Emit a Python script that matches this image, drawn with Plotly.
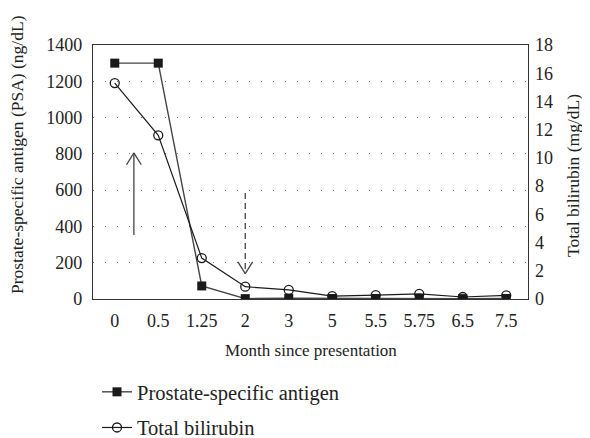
import plotly.graph_objects as go

months = ["0", "0.5", "1.25", "2", "3", "5", "5.5", "5.75", "6.5", "7.5"]
psa = [1300, 1300, 72, 2, 4, 3, 3, 3, 2, 3]
bilirubin = [15.3, 11.6, 2.9, 0.87, 0.64, 0.21, 0.28, 0.36, 0.14, 0.26]
left_ticks = [0, 200, 400, 600, 800, 1000, 1200, 1400]
right_ticks = [0, 2, 4, 6, 8, 10, 12, 14, 16, 18]

FONT = "Liberation Serif"
AX = "#333333"
TXT = "#222222"

# the page body has an 8px margin; the figure is sized to fill the rest
W, H = 582, 430
PL, PT, PW, PH = 93, 45, 435, 254  # plot area in page pixels

fig = go.Figure()
fig.add_trace(go.Scatter(
    x=months, y=psa, name="Prostate-specific antigen", mode="lines+markers",
    line=dict(color="#444444", width=1.4),
    marker=dict(symbol="square", size=9, color="#1a1a1a"),
    legendgroup="a"))
fig.add_trace(go.Scatter(
    x=months, y=bilirubin, name="Total bilirubin", mode="lines+markers", yaxis="y2",
    line=dict(color="#1a1a1a", width=1.2),
    marker=dict(symbol="circle-open", size=9, color="#1a1a1a", line=dict(width=1.3)),
    legendgroup="b"))

shapes = []
ac = dict(color="#444444", width=1.3)
# solid up arrow
ux = 0.44
shapes.append(dict(type="line", xref="x", yref="y", x0=ux, x1=ux, y0=353, y1=805, line=ac))
shapes.append(dict(type="line", xref="x", yref="y", x0=ux - 0.17, x1=ux, y0=740, y1=805, line=ac))
shapes.append(dict(type="line", xref="x", yref="y", x0=ux + 0.17, x1=ux, y0=740, y1=805, line=ac))
# dashed down arrow
dx = 3
shapes.append(dict(type="line", xref="x", yref="y", x0=dx, x1=dx, y0=584, y1=140,
                   line=dict(color="#444444", width=1.3, dash="6px,4px")))
shapes.append(dict(type="line", xref="x", yref="y", x0=dx - 0.17, x1=dx, y0=205, y1=140, line=ac))
shapes.append(dict(type="line", xref="x", yref="y", x0=dx + 0.17, x1=dx, y0=205, y1=140, line=ac))


def px(x):
    return (x - PL) / PW


def py(y):
    return (PT + PH - y) / PH


annotations = [
    dict(text="Month since presentation", xref="paper", yref="paper",
         x=px(311), y=py(350), xanchor="center", yanchor="middle",
         showarrow=False, font=dict(family=FONT, size=17, color=TXT)),
    dict(text="Prostate-specific antigen (PSA) (ng/dL)", xref="paper", yref="paper",
         x=px(17), y=py(155), xanchor="center", yanchor="middle",
         textangle=-90, showarrow=False, font=dict(family=FONT, size=17.5, color=TXT)),
    dict(text="Total bilirubin (mg/dL)", xref="paper", yref="paper",
         x=px(573), y=py(176), xanchor="center", yanchor="middle",
         textangle=-90, showarrow=False, font=dict(family=FONT, size=17.5, color=TXT)),
]

fig.update_layout(
    width=W, height=H,
    margin=dict(l=PL - 8, r=W - (PL - 8) - PW, t=PT - 8, b=H - (PT - 8) - PH, autoexpand=False),
    paper_bgcolor="white", plot_bgcolor="white",
    font=dict(family=FONT, size=18, color=TXT),
    shapes=shapes,
    annotations=annotations,
    showlegend=True,
    legend=dict(x=px(97), y=1 - (372 - 8) / H, xref="paper", yref="container",
                xanchor="left", yanchor="top",
                traceorder="grouped", tracegroupgap=6,
                font=dict(family=FONT, size=20.5, color=TXT), bgcolor="rgba(0,0,0,0)"),
    xaxis=dict(type="category", range=[-0.5, 9.5], automargin=False,
               showline=True, linecolor=AX, linewidth=1.3, mirror=True,
               showgrid=False, ticks="", zeroline=False, ticklabelstandoff=5,
               tickfont=dict(size=18)),
    yaxis=dict(range=[0, 1400], tickvals=left_ticks, automargin=False,
               showline=True, linecolor=AX, linewidth=1.3, mirror=True,
               showgrid=True, gridcolor="#777777", griddash="1px,11px", gridwidth=1,
               ticks="", zeroline=False, ticklabelstandoff=6,
               tickfont=dict(size=18)),
    yaxis2=dict(range=[0, 18], tickvals=right_ticks, overlaying="y", side="right",
                automargin=False, showgrid=False, showline=False, ticks="",
                zeroline=False, ticklabelstandoff=6,
                tickfont=dict(size=18)),
)

fig.write_html("out.html")
